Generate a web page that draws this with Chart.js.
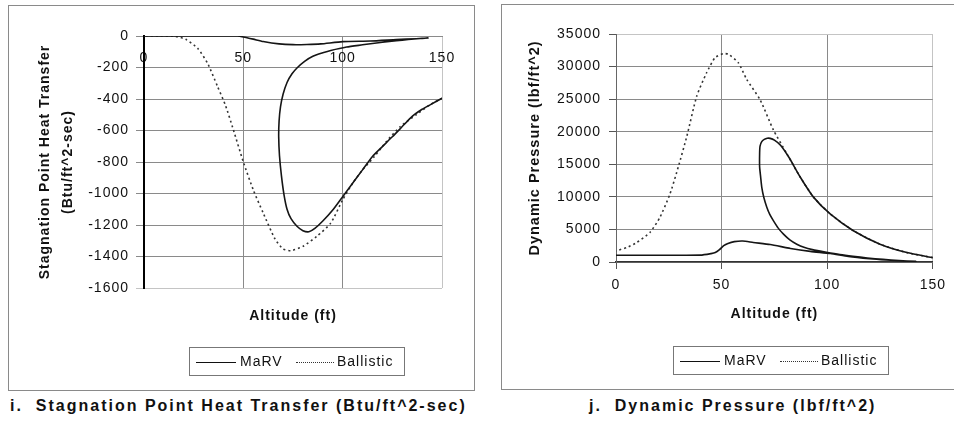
<!DOCTYPE html>
<html>
<head>
<meta charset="utf-8">
<script src="https://cdn.jsdelivr.net/npm/chart.js@4.4.0/dist/chart.umd.min.js"></script>
<style>
  body { margin: 0; background: #fff; font-family: "Liberation Sans", Arial, sans-serif; }
  .frame { position: absolute; border: 1px solid #8a8a8a; box-sizing: border-box; }
  canvas { position: absolute; }
  .legend { position: absolute; border: 1px solid #777; box-sizing: border-box; width: 216px; height: 29px;
            font-size: 14px; letter-spacing: 1px; color: #111; }
  .legend span { position: absolute; }
  .legend .solid { top: 14px; height: 0; border-top: 1.5px solid #111; }
  .legend .dot { top: 14px; height: 0; border-top: 1.5px dotted #333; }
  .legend .txt { top: 5px; }
  .caption { position: absolute; font-size: 16px; font-weight: bold; letter-spacing: 2px; color: #111; white-space: pre; }
</style>
</head>
<body>
<div class="frame" style="left:8px;top:5px;width:467px;height:386px"></div>
<div class="frame" style="left:501px;top:4px;width:470px;height:386px"></div>
<canvas id="heat" width="466" height="385" style="left:8px;top:5px"></canvas>
<canvas id="pres" width="453" height="385" style="left:501px;top:4px"></canvas>

<div class="legend" style="left:189px;top:347px">
  <span class="solid" style="left:6px;width:40px"></span><span class="txt" style="left:50px">MaRV</span>
  <span class="dot" style="left:106px;width:38px"></span><span class="txt" style="left:147px">Ballistic</span>
</div>
<div class="legend" style="left:673px;top:346px">
  <span class="solid" style="left:6px;width:40px"></span><span class="txt" style="left:50px">MaRV</span>
  <span class="dot" style="left:106px;width:38px"></span><span class="txt" style="left:147px">Ballistic</span>
</div>

<div class="caption" style="left:10px;top:397px">i.  Stagnation Point Heat Transfer (Btu/ft^2-sec)</div>
<div class="caption" style="left:589px;top:397px">j.  Dynamic Pressure (lbf/ft^2)</div>

<script>
// axis ranges [min, max, step]
const altRange = [0, 150, 50];
const heatRange = [-1600, 0, 200];
const presRange = [0, 35000, 5000];

// stagnation point heat transfer (Btu/ft^2-sec) vs altitude
const marvHeatAlt = [150, 144, 140, 135, 130, 125, 120, 115, 110, 105, 100, 95, 90, 86, 83, 80, 77, 74, 72, 70.5,
  69.2, 68.2, 67.8, 68, 68.7, 70, 72, 74.5, 77, 81, 85, 90, 94, 102, 110, 114, 120, 127, 133, 139, 143,
  140, 137, 127, 114, 100, 89, 82, 75, 68, 60, 55, 50, 47, 30, 0];
const marvHeatQ = [-395, -437, -465, -510, -575, -640, -702, -765, -850, -935, -1020, -1105, -1175, -1222, -1243, -1236, -1208, -1160, -1100, -1010,
  -890, -760, -640, -540, -450, -370, -295, -240, -203, -160, -129, -107, -92, -70, -56, -49, -40, -30, -22, -16, -13,
  -15, -17, -23, -32, -36, -50, -54, -55, -50, -35, -20, -6, 0, 0, 0];
const ballHeatAlt = [150, 144, 137, 129, 122, 116, 110, 105, 100, 94, 87, 80, 74, 70, 66, 60, 55, 50, 45, 41, 37, 32, 27, 21, 16, 8, 0];
const ballHeatQ = [-395, -437, -500, -575, -670, -765, -850, -935, -1040, -1188, -1272, -1336, -1363, -1352, -1290, -1124, -977, -800, -596, -440, -320, -173, -78, -21, -3, 0, 0];

// dynamic pressure (lbf/ft^2) vs altitude
const marvPresAlt = [150, 137.7, 125, 112.4, 101.4, 93.5, 87.2, 82, 78, 75, 73, 71.6, 70.2, 69, 68.2, 68, 68, 68.5, 69, 70, 71.4,
  72.8, 74.5, 76.8, 79.3, 82.3, 85.6, 89, 93, 99.6, 106, 112.2, 119, 126.4, 134, 142,
  136, 128, 120, 110, 101.5, 92, 82.6, 73, 65, 60, 56, 53, 51, 49, 47, 45, 40, 20, 0];
const marvPresQ = [671, 1445, 2735, 4799, 7379, 9959, 13055, 16000, 17900, 18700, 18980, 19000, 18820, 18475, 17800, 16667, 14603, 13000, 11507, 9900, 8411,
  7300, 6347, 5200, 4283, 3400, 2735, 2250, 1900, 1500, 1150, 880, 620, 400, 220, 90,
  150, 300, 500, 850, 1300, 1630, 2080, 2680, 3000, 3230, 3130, 2850, 2500, 1900, 1450, 1290, 1050, 1030, 1030];
const ballPresAlt = [150, 137.7, 125, 112.4, 101.4, 93.5, 87.2, 80.8, 74.5, 68.2, 61.9, 57.9, 53.2, 50.8, 46.9, 42.9, 38.2, 33.5, 29.5, 25.6, 20.8, 16.1, 9.8, 5.1, 0];
const ballPresQ = [671, 1445, 2735, 4799, 7379, 9959, 13055, 16667, 20279, 24923, 28019, 30599, 31890, 31992, 31373, 29051, 25439, 19247, 14603, 10475, 6863, 4541, 2993, 2219, 1703];

const seriesNames = ["MaRV", "Ballistic"];

const FONT = "'Liberation Sans', Arial, sans-serif";

function pts(xs, ys) {
  return xs.map((x, i) => ({ x: x, y: ys[i] }));
}

// spaced-out lettering like the original print
const spacing = {
  id: "spacing",
  beforeUpdate(chart) { chart.ctx.letterSpacing = "1px"; },
  beforeDraw(chart) { chart.ctx.letterSpacing = "1px"; }
};

function lineSets(mx, my, bx, by) {
  return [
    { label: seriesNames[0], data: pts(mx, my), showLine: true, pointRadius: 0,
      borderColor: "#151515", borderWidth: 1.6, tension: 0.2 },
    { label: seriesNames[1], data: pts(bx, by), showLine: true, pointRadius: 0,
      borderColor: "#333", borderWidth: 1.6, borderDash: [2, 3], tension: 0.2 }
  ];
}

const plain = (v) => String(v);
const tickFont = { family: FONT, size: 14 };
const xTitleFont = { family: FONT, size: 14, weight: "bold", lineHeight: "16px" };

// left: heat transfer, x axis crosses at y = 0
new Chart(document.getElementById("heat"), {
  type: "scatter",
  data: { datasets: lineSets(marvHeatAlt, marvHeatQ, ballHeatAlt, ballHeatQ) },
  options: {
    responsive: false,
    animation: false,
    layout: { padding: { left: 0, right: 32, top: 31, bottom: 0 } },
    plugins: { legend: { display: false }, tooltip: { enabled: false } },
    scales: {
      x: {
        type: "linear", min: altRange[0], max: altRange[1], position: { y: 0 },
        ticks: { stepSize: altRange[2], color: "#111", font: tickFont, padding: 6, callback: plain },
        grid: { color: (c) => c.tick && c.tick.value === altRange[1] ? "#c4c4c4" : "#8a8a8a", tickLength: 8 },
        border: { color: "#8a8a8a" }
      },
      x2: {
        type: "linear", axis: "x", position: "bottom", min: altRange[0], max: altRange[1],
        ticks: { display: false }, grid: { display: false }, border: { display: false },
        title: { display: true, text: "Altitude (ft)", color: "#111", font: xTitleFont, padding: { top: 0, bottom: 66 } },
        afterFit: (s) => { s.height = 102; }
      },
      y: {
        type: "linear", min: heatRange[0], max: heatRange[1],
        ticks: { stepSize: heatRange[2], color: "#111", font: tickFont, padding: 7, callback: plain },
        grid: { color: (c) => c.tick && c.tick.value === heatRange[0] ? "#c4c4c4" : "#8a8a8a", tickLength: 8 },
        border: { color: "#000", width: 2 },
        title: { display: true, text: ["Stagnation Point Heat Transfer", "(Btu/ft^2-sec)"], color: "#111",
                 font: { family: FONT, size: 14, weight: "bold", lineHeight: "23px" }, padding: { top: 25.5, bottom: 0 } },
        afterFit: (s) => { s.width = 136; }
      }
    }
  },
  plugins: [spacing]
});

// right: dynamic pressure
new Chart(document.getElementById("pres"), {
  type: "scatter",
  data: { datasets: lineSets(marvPresAlt, marvPresQ, ballPresAlt, ballPresQ) },
  options: {
    responsive: false,
    animation: false,
    layout: { padding: { left: 0, right: 21, top: 30, bottom: 0 } },
    plugins: { legend: { display: false }, tooltip: { enabled: false } },
    scales: {
      x: {
        type: "linear", min: altRange[0], max: altRange[1], position: "bottom",
        ticks: { stepSize: altRange[2], color: "#111", font: tickFont, padding: 8, callback: plain },
        grid: { color: (c) => c.tick && c.tick.value === altRange[1] ? "#c4c4c4" : "#8a8a8a", tickLength: 7, tickColor: "#555" },
        border: { color: "#333", width: 1.5 },
        title: { display: true, text: "Altitude (ft)", color: "#111", font: xTitleFont, padding: { top: 0, bottom: 67 } },
        afterFit: (s) => { s.height = 127; }
      },
      y: {
        type: "linear", min: presRange[0], max: presRange[1],
        ticks: { stepSize: presRange[2], color: "#111", font: tickFont, padding: 8, callback: plain },
        grid: { color: (c) => c.tick && c.tick.value === presRange[1] ? "#c4c4c4" : "#8a8a8a", tickLength: 7, tickColor: "#555" },
        border: { color: "#666" },
        title: { display: true, text: "Dynamic Pressure (lbf/ft^2)", color: "#111",
                 font: { family: FONT, size: 14.5, weight: "bold", lineHeight: "16px" }, padding: { top: 26, bottom: 0 } },
        afterFit: (s) => { s.width = 115; }
      }
    }
  },
  plugins: [spacing]
});
</script>
</body>
</html>
